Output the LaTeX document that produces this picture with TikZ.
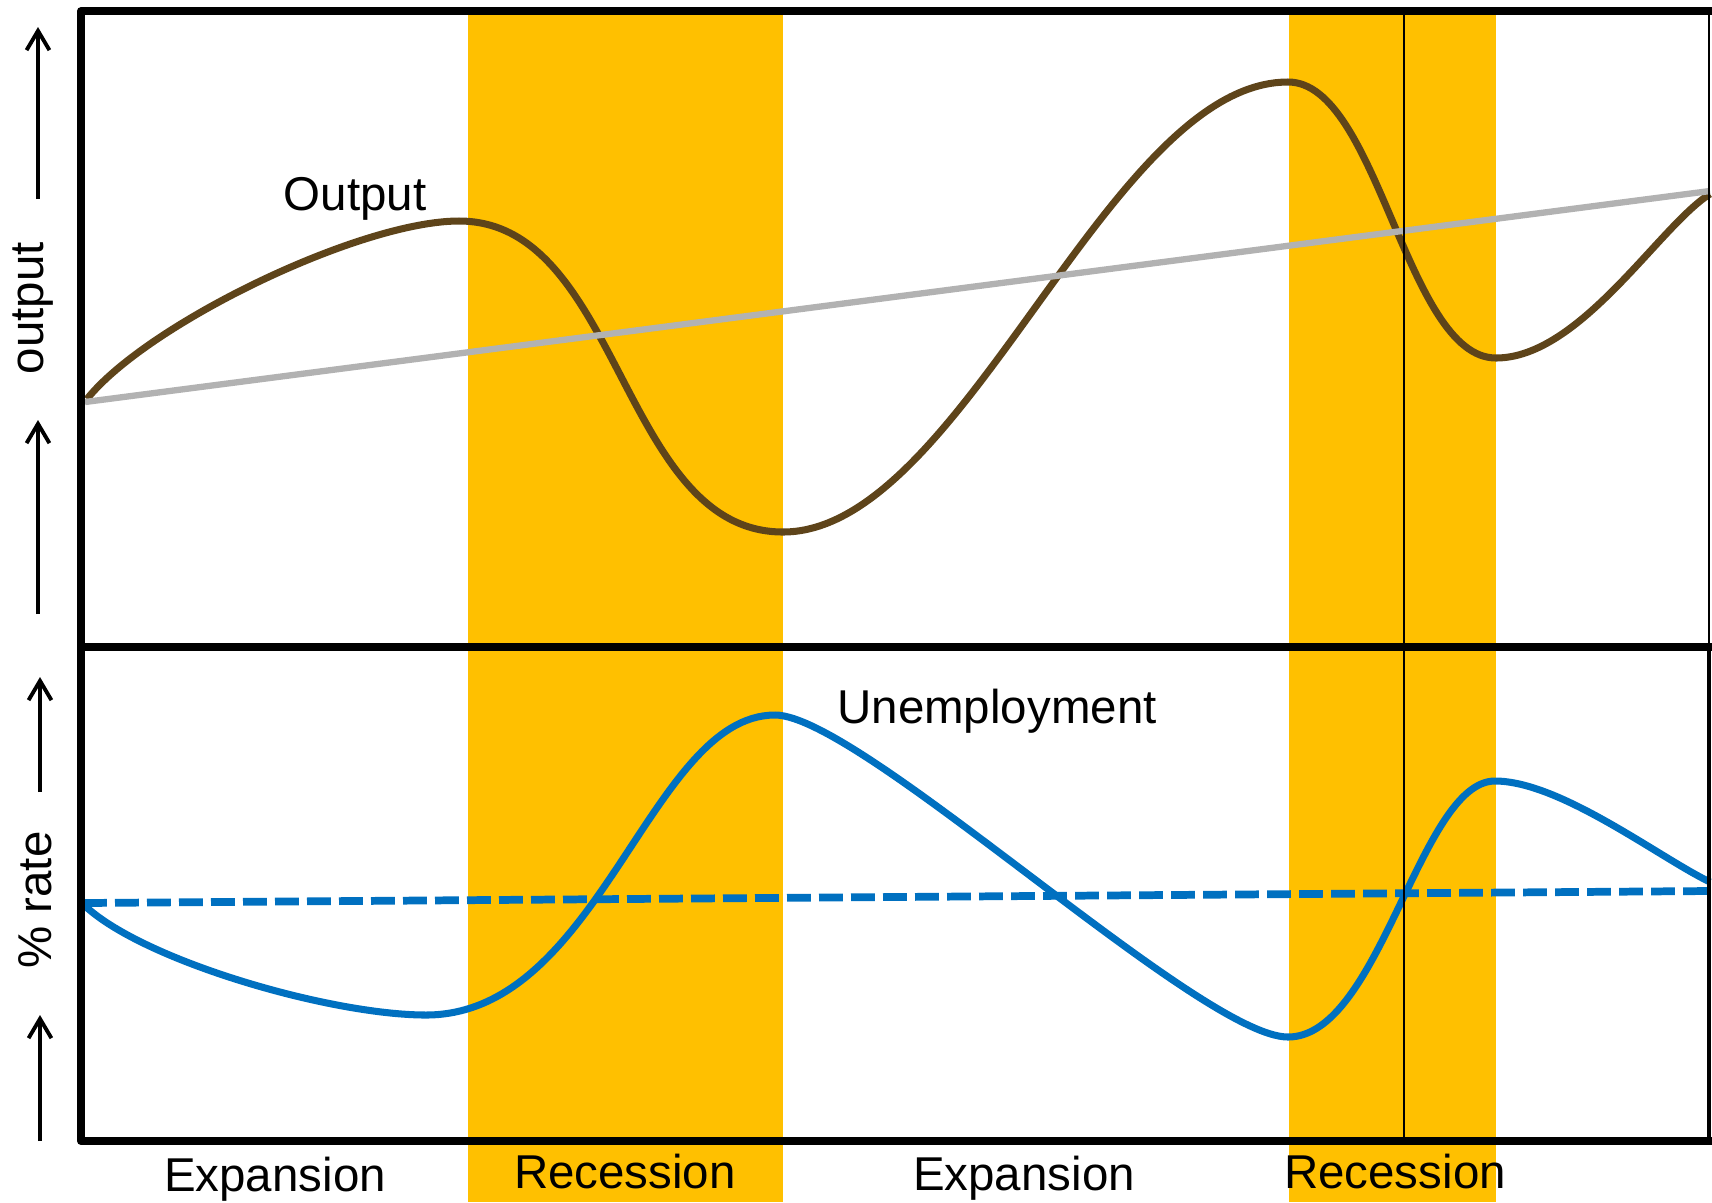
\documentclass[tikz,border=0pt]{standalone}
\usepackage{fontspec}
\setmainfont{Liberation Sans}
\usetikzlibrary{arrows.meta}
\definecolor{recgold}{RGB}{255,192,0}
\definecolor{outbrown}{RGB}{94,68,26}
\definecolor{trendgray}{RGB}{178,178,178}
\definecolor{unblue}{RGB}{0,112,192}
\begin{document}
\begin{tikzpicture}[x=0.01cm,y=-0.01cm,
  lbl/.style={font=\fontsize{13.5}{16}\selectfont,inner sep=0pt},
  uparrow/.style={line width=1.1pt,-{Straight Barb[length=5.5pt,width=6.5pt]}},
  frame/.style={line width=2.2pt,line join=round}]
 \useasboundingbox (0,0) rectangle (1712,1202);
 \fill[recgold](468,11) rectangle (783,1202);
 \fill[recgold](1289,11) rectangle (1496,1202);
 \draw[outbrown,line width=2pt](87,399) .. controls (147,324) and (360,221) .. (459,221)
   .. controls (621,221) and (621,532) .. (783,532)
   .. controls (963,532) and (1108,82) .. (1288,82)
   .. controls (1378,82) and (1406,358) .. (1496,358)
   .. controls (1580,358) and (1660,225) .. (1710,194);
 \draw[trendgray,line width=1.8pt](85,402) -- (1710,191);
 \draw[unblue,line width=2pt](83,904) .. controls (140,960) and (330,1015) .. (426,1015)
   .. controls (600,1015) and (650,715) .. (775,715)
   .. controls (860,715) and (1200,1037) .. (1288,1037)
   .. controls (1380,1037) and (1420,781) .. (1495,781)
   .. controls (1560,781) and (1660,858) .. (1710,882);
 \draw[unblue,line width=2.2pt,dash pattern=on 6.8pt off 2.3pt](83,903) -- (1710,891);
 \draw[frame](1712,11) -- (81,11) -- (81,1141) -- (1712,1141);
 \draw[frame](81,647) -- (1712,647);
 \draw[line width=0.5pt](1709,11) -- (1709,647);
 \draw[line width=1pt](1709,647) -- (1709,1141);
 \draw[line width=0.6pt](1404,11) -- (1404,1141);
 \draw[uparrow](38,199) -- (38,27);
 \draw[uparrow](38,614) -- (38,420);
 \draw[uparrow](40,792) -- (40,677);
 \draw[uparrow](40,1141) -- (40,1015);
 \node[lbl,rotate=90](outaxis) at (33,308) {output};
 \node[lbl,rotate=90](rateaxis) at (35,900) {\% rate};
 \node[lbl,anchor=base](outname) at (355,210) {Output};
 \node[lbl,anchor=base](unname) at (997,723) {Unemployment};
 \node[lbl,anchor=base](expone) at (275,1191) {Expansion};
 \node[lbl,anchor=base](recone) at (625,1188) {Recession};
 \node[lbl,anchor=base](exptwo) at (1024,1190) {Expansion};
 \node[lbl,anchor=base](rectwo) at (1395,1188) {Recession};
\end{tikzpicture}
\end{document}
